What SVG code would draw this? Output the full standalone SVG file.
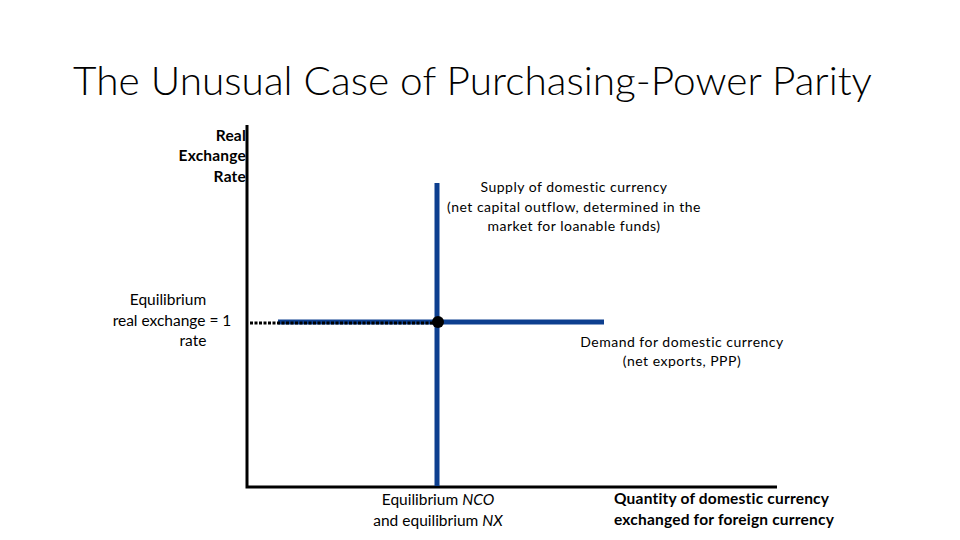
<svg xmlns="http://www.w3.org/2000/svg" width="960" height="540" viewBox="0 0 960 540">
<style>
text{font-family:Lato,"Open Sans","Liberation Sans",sans-serif;fill:#000}
.t{font-size:15.5px}
.s{font-size:14px;letter-spacing:0.5px}
.b{font-size:15.5px;font-weight:bold;letter-spacing:0.2px}
.axis{stroke:#000;stroke-width:3;fill:none}
.curve{stroke:#0D3F8F;stroke-width:5;fill:none}
</style>
<rect width="960" height="540" fill="#fff"/>
<text x="73" y="95" font-size="40" font-weight="300" textLength="799" lengthAdjust="spacingAndGlyphs">The Unusual Case of Purchasing-Power Parity</text>
<g id="axes">
<path class="axis" d="M247 125 V487 H777"/>
</g>
<g id="connectors">
<line class="curve" x1="278" y1="322" x2="604" y2="322"/>
<line class="curve" x1="437" y1="183" x2="437" y2="486"/>
<line x1="250" y1="323" x2="437" y2="323" stroke="#000" stroke-width="3" stroke-dasharray="3 1.5"/>
<circle cx="438" cy="322" r="6" fill="#000"/>
</g>
<g id="yaxis-label" text-anchor="end">
<text x="246" y="141" class="b">Real</text>
<text x="246" y="161" class="b">Exchange</text>
<text x="246" y="182" class="b">Rate</text>
</g>
<g id="eq-rate" text-anchor="middle">
<text x="168" y="305" class="t">Equilibrium</text>
<text x="172" y="326" class="t">real exchange = 1</text>
<text x="193" y="346" class="t">rate</text>
</g>
<g id="supply" text-anchor="middle">
<text x="574" y="192" class="s">Supply of domestic currency</text>
<text x="574" y="212" class="s">(net capital outflow, determined in the</text>
<text x="574" y="231" class="s">market for loanable funds)</text>
</g>
<g id="demand" text-anchor="middle">
<text x="682" y="347" class="s">Demand for domestic currency</text>
<text x="682" y="366" class="s">(net exports, PPP)</text>
</g>
<g id="eq-q" text-anchor="middle">
<text x="438" y="505" class="t">Equilibrium <tspan font-style="italic">NCO</tspan></text>
<text x="438" y="526" class="t">and equilibrium <tspan font-style="italic">NX</tspan></text>
</g>
<g id="xaxis-label">
<text x="614" y="504" class="b">Quantity of domestic currency</text>
<text x="614" y="525" class="b">exchanged for foreign currency</text>
</g>
</svg>
